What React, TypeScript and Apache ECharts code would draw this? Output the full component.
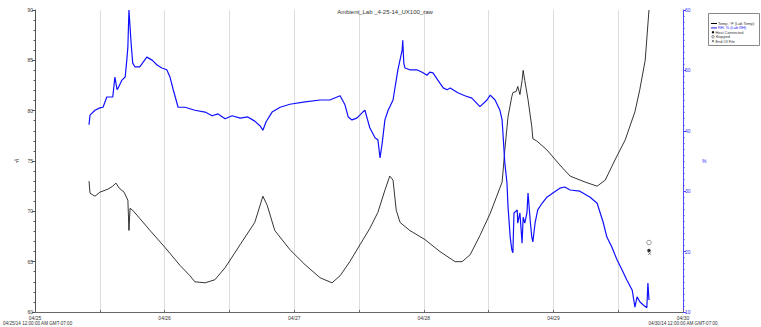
import React, { useEffect, useRef } from "react";
import * as echarts from "echarts";

const chartTitle = "Ambient_Lab _4-25-14_UX100_raw";
const dayLabels = ["04/25", "04/26", "04/27", "04/28", "04/29", "04/30"];
const startStamp = "04/25/14 12:00:00 AM GMT-07:00";
const endStamp = "04/30/14 12:00:00 AM GMT-07:00";

// hours since 04/25 00:00
const tempHours = [10.0, 10.19, 11.1, 12.0, 13.5, 14.4, 15.0, 15.6, 16.5, 17.2, 17.4, 17.6, 18.1, 19.4, 21.3, 24.1, 26.9, 28.7, 29.6, 31.5, 33.3, 35.2, 38.0, 40.7, 42.2, 43.0, 44.4, 47.2, 50.0, 52.8, 55.0, 56.5, 58.3, 60.2, 62.0, 63.5, 64.8, 65.7, 66.3, 66.9, 67.6, 69.4, 72.2, 75.0, 77.8, 79.1, 80.6, 82.4, 84.3, 86.5, 86.7, 87.0, 87.6, 88.3, 88.5, 89.1, 89.4, 89.8, 90.2, 90.4, 90.7, 91.3, 92.0, 92.2, 92.9, 94.8, 97.2, 99.1, 101.9, 104.1, 105.6, 107.4, 109.3, 111.1, 112.0, 113.0, 113.7];
const tempValues = [73.0, 71.8, 71.5, 71.9, 72.2, 72.5, 72.8, 72.3, 71.9, 71.1, 68.1, 70.3, 70.1, 69.3, 68.1, 66.4, 64.6, 63.6, 63.0, 62.9, 63.2, 64.4, 66.7, 68.9, 71.5, 70.6, 68.1, 66.2, 64.7, 63.4, 62.9, 63.6, 65.0, 66.7, 68.3, 69.9, 72.1, 73.5, 73.1, 70.1, 68.9, 68.1, 67.2, 66.0, 65.0, 65.0, 65.7, 67.6, 69.8, 72.9, 74.1, 76.1, 79.4, 81.4, 81.8, 81.9, 82.4, 81.6, 83.0, 84.0, 83.0, 81.1, 78.4, 77.2, 77.0, 76.1, 74.6, 73.5, 72.9, 72.5, 73.1, 75.1, 77.1, 79.9, 82.1, 85.0, 90.0];

const rhHours = [10.0, 10.19, 11.1, 12.0, 12.6, 13.3, 14.4, 14.8, 15.2, 15.4, 16.1, 16.7, 17.0, 17.2, 17.4, 17.8, 18.1, 18.5, 19.4, 20.7, 21.7, 22.6, 23.5, 24.4, 25.0, 25.6, 26.5, 27.8, 29.6, 31.5, 32.8, 33.9, 35.2, 36.5, 38.0, 39.4, 40.7, 41.7, 42.2, 42.8, 43.9, 45.4, 47.2, 50.0, 52.8, 54.6, 56.5, 57.4, 58.0, 58.7, 59.6, 60.7, 61.1, 61.5, 62.0, 63.0, 63.5, 63.9, 64.3, 64.8, 65.4, 66.3, 67.2, 68.0, 68.1, 68.3, 68.5, 69.4, 70.7, 71.7, 72.6, 73.1, 73.7, 74.6, 75.6, 76.3, 76.9, 78.3, 79.6, 80.9, 82.4, 83.7, 84.3, 85.2, 86.1, 86.5, 86.7, 87.0, 87.4, 87.6, 88.0, 88.3, 88.5, 88.7, 89.3, 89.4, 89.8, 90.2, 90.4, 90.7, 91.1, 91.3, 91.7, 92.0, 92.2, 92.6, 93.1, 93.9, 94.8, 95.9, 97.2, 98.1, 99.1, 100.9, 102.8, 104.1, 104.6, 105.2, 105.9, 106.8, 107.8, 108.7, 109.6, 110.6, 111.1, 111.5, 112.0, 112.6, 113.3, 113.5, 113.7];
const rhValues = [41.0, 42.6, 43.4, 43.8, 43.9, 45.6, 45.6, 48.9, 46.8, 47.1, 48.4, 48.9, 51.7, 53.9, 60.0, 54.5, 51.2, 50.6, 50.6, 52.2, 51.7, 50.9, 50.4, 50.1, 48.9, 46.8, 43.9, 43.9, 43.4, 43.1, 42.5, 42.8, 42.0, 42.5, 42.1, 42.3, 41.6, 40.8, 40.1, 41.5, 43.1, 43.9, 44.4, 44.8, 45.1, 45.1, 45.8, 44.3, 42.3, 41.8, 42.1, 43.1, 43.4, 42.1, 40.5, 38.8, 38.5, 35.5, 38.0, 41.8, 43.4, 45.1, 50.1, 53.4, 55.0, 51.2, 50.4, 50.1, 50.1, 49.7, 49.2, 49.7, 49.6, 48.4, 47.1, 46.8, 47.1, 46.3, 45.8, 45.4, 44.0, 45.1, 45.9, 45.1, 43.4, 41.8, 39.0, 34.7, 31.4, 27.4, 22.4, 20.3, 19.8, 26.4, 26.9, 24.7, 26.4, 21.4, 25.7, 24.7, 26.4, 29.7, 25.2, 22.4, 21.6, 24.7, 26.9, 28.0, 29.0, 29.7, 30.5, 30.7, 30.2, 30.0, 29.0, 28.0, 26.6, 24.9, 22.4, 20.8, 18.6, 17.0, 15.3, 13.6, 10.8, 12.5, 11.7, 11.2, 10.7, 14.8, 12.0];

const eventNames = ["Host Connected", "Stopped", "End Of File"];
const eventHours = [113.7, 113.7, 113.8];
const eventValues = [66.1, 66.9, 65.8];

const FONT = "Liberation Sans";

export default function App() {
  const ref = useRef<HTMLDivElement>(null);
  useEffect(() => {
    const chart = echarts.init(ref.current!, null, { renderer: "svg" });
    const tempData = tempHours.map((h, i) => [h, tempValues[i]]);
    const rhData = rhHours.map((h, i) => [h, rhValues[i]]);
    const xSymbol = "path://M0,0L10,10M10,0L0,10";
    const legendRows = [
      { kind: "line", color: "#000", text: "Temp, °F (Lab Temp)" },
      { kind: "line", color: "#2020ff", text: "RH, % (Lab RH)" },
      { kind: "dot", color: "#000", text: eventNames[0] },
      { kind: "ring", color: "#000", text: eventNames[1] },
      { kind: "x", color: "#000", text: eventNames[2] },
    ];
    const legendEls: any[] = [
      { type: "rect", shape: { x: 708.5, y: 13.5, width: 51, height: 32 }, style: { fill: "#fff", stroke: "#888", lineWidth: 1 } },
    ];
    legendRows.forEach((r, i) => {
      const y = 23.5 + i * 4.4;
      if (r.kind === "line") {
        legendEls.push({ type: "line", shape: { x1: 711, y1: y, x2: 717, y2: y }, style: { stroke: r.color, lineWidth: 1 } });
      } else if (r.kind === "dot") {
        legendEls.push({ type: "circle", shape: { cx: 713, cy: y, r: 1.2 }, style: { fill: "#000" } });
      } else if (r.kind === "ring") {
        legendEls.push({ type: "circle", shape: { cx: 713, cy: y, r: 1.2 }, style: { fill: "#fff", stroke: "#000", lineWidth: 0.5 } });
      } else {
        legendEls.push({ type: "line", shape: { x1: 711.9, y1: y - 1.1, x2: 714.1, y2: y + 1.1 }, style: { stroke: "#000", lineWidth: 0.5 } });
        legendEls.push({ type: "line", shape: { x1: 714.1, y1: y - 1.1, x2: 711.9, y2: y + 1.1 }, style: { stroke: "#000", lineWidth: 0.5 } });
      }
      legendEls.push({
        type: "text",
        x: r.kind === "line" ? 718 : 715.5,
        y,
        style: { text: r.text, fill: r.color === "#2020ff" ? "#2020ff" : "#333", font: `3.9px "${FONT}"`, verticalAlign: "middle" },
      });
    });

    chart.setOption({
      animation: false,
      backgroundColor: "#fff",
      title: {
        text: chartTitle,
        left: 380,
        top: 4,
        textAlign: "center",
        textStyle: { fontSize: 6, fontWeight: "normal", color: "#333", fontFamily: FONT },
      },
      grid: { left: 35, right: 78, top: 10, bottom: 15, containLabel: false, outerBoundsMode: "none" },
      xAxis: {
        type: "value",
        min: 0,
        max: 120,
        interval: 12,
        axisLine: { lineStyle: { color: "#666", width: 1 } },
        axisTick: { show: true, inside: true, length: 2, lineStyle: { color: "#666" } },
        axisLabel: {
          fontSize: 5,
          color: "#333",
          fontFamily: FONT,
          margin: 3,
          formatter: (v: number) => (v % 24 === 0 ? dayLabels[v / 24] : ""),
        },
        splitLine: { show: true, lineStyle: { color: "#ddd", width: 1 } },
      },
      yAxis: [
        {
          type: "value",
          min: 60,
          max: 90,
          interval: 5,
          position: "left",
          name: "°F",
          nameLocation: "middle",
          nameGap: 16,
          nameRotate: 0,
          nameTextStyle: { fontSize: 5, color: "#333", fontFamily: FONT },
          axisLine: { show: true, lineStyle: { color: "#555" } },
          axisTick: { show: true, length: 3, lineStyle: { color: "#555" } },
          minorTick: { show: true, splitNumber: 5, length: 1.5, lineStyle: { color: "#555" } },
          axisLabel: { fontSize: 5, color: "#333", fontFamily: FONT, margin: 2 },
          splitLine: { show: false },
        },
        {
          type: "value",
          min: 10,
          max: 60,
          interval: 10,
          position: "right",
          name: "%",
          nameLocation: "middle",
          nameGap: 19,
          nameRotate: 0,
          nameTextStyle: { fontSize: 5, color: "#3030ff", fontFamily: FONT },
          axisLine: { show: true, lineStyle: { color: "#4848ff" } },
          axisTick: { show: true, length: 3, lineStyle: { color: "#4848ff" } },
          minorTick: { show: true, splitNumber: 10, length: 1.5, lineStyle: { color: "#4848ff" } },
          axisLabel: { fontSize: 5, color: "#3030ff", fontFamily: FONT, margin: 2 },
          splitLine: { show: false },
        },
      ],
      series: [
        {
          name: "Temp, °F (Lab Temp)",
          type: "line",
          yAxisIndex: 0,
          data: tempData,
          showSymbol: false,
          lineStyle: { color: "#000", width: 0.8 },
        },
        {
          name: "RH, % (Lab RH)",
          type: "line",
          yAxisIndex: 1,
          data: rhData,
          showSymbol: false,
          lineStyle: { color: "#1010ff", width: 1.2 },
        },
        {
          name: eventNames[0],
          type: "scatter",
          yAxisIndex: 0,
          data: [[eventHours[0], eventValues[0]]],
          symbol: "circle",
          symbolSize: 3.5,
          itemStyle: { color: "#000" },
        },
        {
          name: eventNames[1],
          type: "scatter",
          yAxisIndex: 0,
          data: [[eventHours[1], eventValues[1]]],
          symbol: "circle",
          symbolSize: 4.5,
          itemStyle: { color: "#fff", borderColor: "#000", borderWidth: 0.5 },
        },
        {
          name: eventNames[2],
          type: "scatter",
          yAxisIndex: 0,
          data: [[eventHours[2], eventValues[2]]],
          symbol: xSymbol,
          symbolSize: 3,
          itemStyle: { color: "none", borderColor: "#000", borderWidth: 0.5 },
        },
      ],
      graphic: [
        { type: "text", x: 3, y: 323, style: { text: startStamp, fill: "#333", font: `4.6px "${FONT}"`, verticalAlign: "middle" } },
        { type: "text", x: 683, y: 323, style: { text: endStamp, fill: "#333", font: `4.6px "${FONT}"`, verticalAlign: "middle", align: "center" } },
        ...legendEls,
      ],
    });
    return () => chart.dispose();
  }, []);
  return <div ref={ref} style={{ position: "fixed", left: 0, top: 0, width: 761, height: 327, background: "#fff" }} />;
}
